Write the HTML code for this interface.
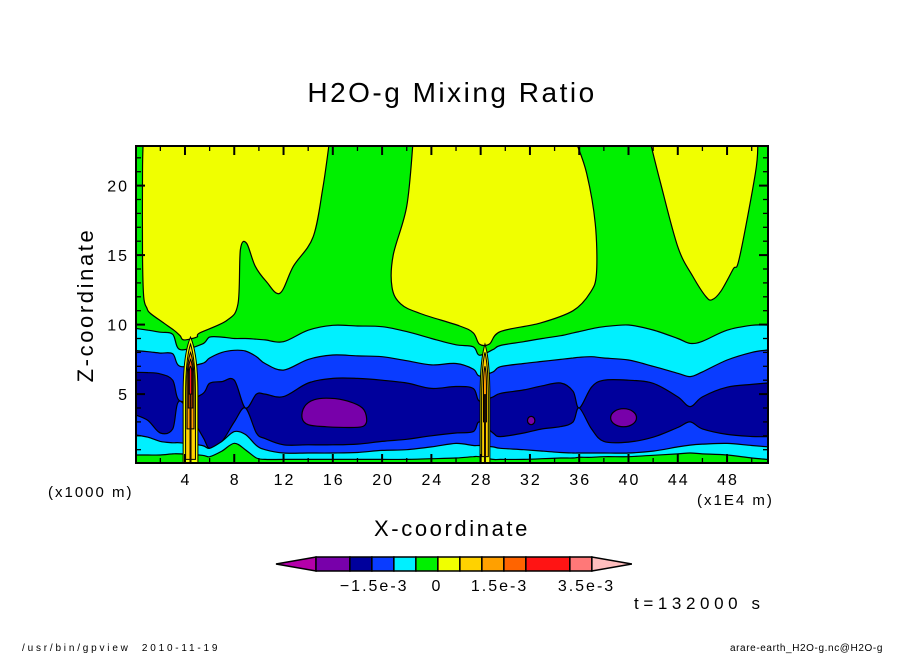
<!DOCTYPE html>
<html><head><meta charset="utf-8"><style>
html,body{margin:0;padding:0;background:#fff;}
svg{display:block;font-family:"Liberation Sans",sans-serif;}
</style></head><body>
<svg id="chart" width="904" height="654" viewBox="0 0 904 654" xmlns="http://www.w3.org/2000/svg">
<defs><clipPath id="plotclip"><rect x="136" y="146" width="632" height="317"/></clipPath></defs>
<rect x="0" y="0" width="904" height="654" fill="#ffffff"/>
<text x="452" y="102" font-size="28" letter-spacing="2.5" text-anchor="middle">H2O-g Mixing Ratio</text>
<g id="plot" clip-path="url(#plotclip)"></g>
<g id="axes"></g>
<text x="93" y="305" font-size="22" letter-spacing="2.6" text-anchor="middle" transform="rotate(-90 93 305)">Z-coordinate</text>
<text x="452" y="536" font-size="22" letter-spacing="2.6" text-anchor="middle">X-coordinate</text>
<text x="48" y="497" font-size="15" letter-spacing="2">(x1000 m)</text>
<text x="697" y="505" font-size="15" letter-spacing="2">(x1E4 m)</text>
<g id="colorbar"></g>
<text x="634" y="609" font-size="17" letter-spacing="4.6">t=132000 s</text>
<text x="22" y="651" font-size="10" letter-spacing="2.8" xml:space="preserve">/usr/bin/gpview  2010-11-19</text>
<text x="883" y="651" font-size="10" letter-spacing="0.6" text-anchor="end">arare-earth_H2O-g.nc@H2O-g</text>
</svg>
<script>
// ---- data (x in 1E4 m, z in km) ----
const xs = [0,1,2,3,3.6,5.4,6,7,8,8.9,9.8,10.5,12,14,16,18,20,22,24,26,27.4,27.9,29.0,29.6,31.5,33,34.5,35.5,36.0,37,38,40,42,44,45,46,48,50,51.3];
const b5 = [9.73,9.6,9.45,9.3,8.2,8.6,9.1,9.1,9.0,9.0,8.95,8.9,8.77,9.6,9.95,9.9,9.85,9.5,9.0,8.55,8.4,7.8,8.2,8.5,8.77,9.0,9.2,9.4,9.5,9.7,9.85,9.97,9.61,9.0,8.65,8.8,9.6,9.95,9.97];
const b4 = [8.13,8.05,7.95,7.9,7.0,7.2,7.6,8.0,8.15,8.1,7.7,7.2,6.73,7.5,7.81,7.75,7.69,7.4,7.1,7.2,6.8,6.3,6.6,6.97,7.2,7.35,7.5,7.6,7.65,7.69,7.6,7.45,7.0,6.5,6.26,6.6,7.45,8.0,8.17];
const b3 = [6.57,6.55,6.45,6.0,4.5,5.0,5.78,5.9,6.0,4.0,5.0,5.0,4.82,5.8,6.13,6.13,6.0,5.8,5.41,5.55,5.4,4.5,4.8,5.05,5.3,5.6,5.8,5.2,4.0,5.5,6.0,6.0,5.78,4.8,4.1,4.8,5.5,5.7,5.8];
const b2 = [3.5,3.1,2.2,2.5,4.5,2.0,1.1,1.6,3.0,4.0,2.2,1.8,1.35,1.35,1.35,1.4,1.6,1.75,2.0,2.2,2.3,3.0,2.2,1.94,2.2,2.5,2.66,3.0,4.0,2.5,1.6,1.55,1.9,2.6,3.0,2.5,2.1,1.95,1.94];
const b1 = [2.06,1.9,1.6,1.5,1.5,1.3,1.1,1.6,2.3,2.1,1.3,1.0,0.76,0.76,0.76,0.8,0.95,1.0,1.2,1.45,1.3,1.3,1.2,1.1,1.0,0.9,0.8,0.76,0.76,0.76,0.76,0.76,0.9,1.2,1.33,1.4,1.45,1.3,1.21];
const b0 = [0.62,0.62,0.62,0.7,0.7,0.6,0.5,0.9,1.46,1.0,0.4,0.3,0.3,0.3,0.3,0.3,0.3,0.3,0.35,0.4,0.5,0.5,0.3,0.3,0.3,0.35,0.4,0.4,0.45,0.45,0.5,0.5,0.6,0.7,0.76,0.7,0.62,0.4,0.3];

const yellow1X = [0.6,0.55,0.55,0.65,0.9,1.2,2.3,3.1,3.6,3.9,4.95,5.2,7.4,8.3,8.5,9.0,9.7,10.6,11.7,12.8,14.4,15.2,15.7];
const yellow1Z = [23,21,15,12,11.2,10.8,10.1,9.6,9.2,8.9,9.1,9.4,10.3,11.5,15.4,15.85,14.2,13.1,12.25,14.2,16.3,19.9,23];
const yellow2X = [22.5,22.0,20.9,20.8,21.5,23.1,26.3,27.4,27.9,28.7,29.6,32.8,35.5,36.9,37.4,37.3,36.6,35.8];
const yellow2Z = [23,18.5,15,12.7,11.5,10.8,9.9,9.4,8.6,8.6,9.5,10.1,11.0,12.3,13.7,17.3,20.9,23];
const yellow3X = [41.8,42.6,44,45.2,46.3,46.8,47.5,48.5,49,50.3,50.5];
const yellow3Z = [23,20.2,15.6,13.5,12.0,11.8,12.4,14,14.8,20.9,23];

const purple1X = [13.5,13.7,14.5,15.8,17.2,18.4,18.75,18.5,17.5,15.5,14.0];
const purple1Z = [3.3,4.1,4.6,4.7,4.5,4.0,3.2,2.7,2.6,2.65,2.8];
const purpleSpotX = [32.1,39.6];
const purpleSpotZ = [3.1,3.3];
const purpleSpotRX = [0.3,1.05];
const purpleSpotRZ = [0.3,0.65];

const plumeCenters = [4.45,28.35];
const plume1Half = [0.6,0.4,0.28,0.18,0.1];
const plume1Bottom = [0,0.3,2.5,4,5];
const plume1Top = [9.1,8.6,8.0,7.5,7.0];
const plume2Half = [0.4,0.27,0.12];
const plume2Bottom = [0,0.5,3];
const plume2Top = [8.6,8.0,7.0];
const plumeColors = ['#f0ff00','#ffd200','#ffa000','#ff6400','#ff1414'];

const xTicks = [4,8,12,16,20,24,28,32,36,40,44,48];
const zTicks = [5,10,15,20];
const cbColors = ['#7800aa','#00009c','#0a3cff','#00f0ff','#00f000','#f0ff00','#ffd200','#ffa000','#ff6400','#ff1414','#ff7878'];
const cbWidths = [2,1,1,1,1,1,1,1,1,2,1];
const cbLabels = ['−1.5e-3','0','1.5e-3','3.5e-3'];
const cbLabelPos = [2.6,5.45,8.3,12.25];

// ---- scales ----
const X = x => 135.7 + x*12.32;
const Z = z => 463.6 - z*13.9;
const NS = 'http://www.w3.org/2000/svg';
const plot = document.getElementById('plot');
const axes = document.getElementById('axes');
const cb = document.getElementById('colorbar');
function mk(tag, attrs, parent){const e=document.createElementNS(NS,tag);for(const k in attrs)e.setAttribute(k,attrs[k]);parent.appendChild(e);return e;}

// Catmull-Rom smooth path through points
function smooth(pts, closed){
  const n=pts.length;
  const P=i=> closed ? pts[(i+n)%n] : pts[Math.max(0,Math.min(n-1,i))];
  let d='M'+pts[0][0].toFixed(1)+','+pts[0][1].toFixed(1);
  const last = closed? n : n-1;
  for(let i=0;i<last;i++){
    const p0=P(i-1),p1=P(i),p2=P(i+1),p3=P(i+2);
    const c1=[p1[0]+(p2[0]-p0[0])/6,p1[1]+(p2[1]-p0[1])/6];
    const c2=[p2[0]-(p3[0]-p1[0])/6,p2[1]-(p3[1]-p1[1])/6];
    d+=' C'+c1[0].toFixed(1)+','+c1[1].toFixed(1)+' '+c2[0].toFixed(1)+','+c2[1].toFixed(1)+' '+p2[0].toFixed(1)+','+p2[1].toFixed(1);
  }
  return d;
}

let bg = mk('rect',{x:136,y:146,width:632,height:318,fill:'#00f000'},plot);



function band(arr,color,name){
  const pts=xs.map((x,i)=>[X(x),Z(arr[i])]);
  let d=smooth(pts,false);
  d+=' L'+X(xs[xs.length-1])+','+Z(-1)+' L'+X(xs[0])+','+Z(-1)+' Z';
  const p=mk('path',{d:d,fill:color,stroke:'#000','stroke-width':1.2},plot);
  
  
}
band(b5,'#00f0ff','cyan-band-upper');
band(b4,'#0a3cff','blue-band-upper');
band(b3,'#00009c','navy-band');
band(b2,'#0a3cff','blue-band-lower');
band(b1,'#00f0ff','cyan-band-lower');
band(b0,'#00f000','green-band-ground');

// open region reaching the top edge: smooth boundary, then close above the plot
function topRegion(px,pz,color,name){
  const pts=px.map((x,i)=>[X(x),Z(pz[i])]);
  const first=pts[0], last=pts[pts.length-1];
  const d=smooth(pts,false)+' L'+last[0].toFixed(1)+','+Z(26)+' L'+first[0].toFixed(1)+','+Z(26)+' Z';
  const p=mk('path',{d:d,fill:color,stroke:'#000','stroke-width':1.2},plot);
  
  
}
function blob(px,pz,color,name){
  const pts=px.map((x,i)=>[X(x),Z(pz[i])]);
  const p=mk('path',{d:smooth(pts,true)+' Z',fill:color,stroke:'#000','stroke-width':1.2},plot);
  
  
}
topRegion(yellow1X,yellow1Z,'#f0ff00','yellow-region-left');
topRegion(yellow2X,yellow2Z,'#f0ff00','yellow-region-middle');
topRegion(yellow3X,yellow3Z,'#f0ff00','yellow-region-right');
blob(purple1X,purple1Z,'#7800aa','purple-minimum-1');
purpleSpotX.forEach((x,i)=>{
  const e=mk('ellipse',{cx:X(x),cy:Z(purpleSpotZ[i]),rx:purpleSpotRX[i]*12.32,ry:purpleSpotRZ[i]*13.9,fill:'#7800aa',stroke:'#000','stroke-width':1.2},plot);
  
  
});

function plume(c,half,bot,top,name){
  half.forEach((w,i)=>{
    const l=X(c-w), r=X(c+w), b=Z(bot[i]), t=Z(top[i]), m=X(c);
    const mid=Z((bot[i]+top[i])*0.55);
    const d='M'+l+','+b+' L'+l+','+mid+' Q'+l+','+(t+ (mid-t)*0.3)+' '+m+','+t+' Q'+r+','+(t+(mid-t)*0.3)+' '+r+','+mid+' L'+r+','+b+' Z';
    const p=mk('path',{d:d,fill:plumeColors[i],stroke:'#000','stroke-width':1},plot);
    
    
  });
  const core=mk('rect',{x:X(c)-1,y:Z(5),width:2,height:Z(0)-Z(5),fill:'#1a0a00'},plot);
  
  
}
plume(plumeCenters[0],plume1Half,plume1Bottom,plume1Top,'plume-left');
plume(plumeCenters[1],plume2Half,plume2Bottom,plume2Top,'plume-right');

// ---- axes frame & ticks ----
const fr=mk('rect',{x:136,y:146,width:632,height:317,fill:'none',stroke:'#000','stroke-width':2},axes);


for(let v=2; v<=51; v+=2){
  const major = v%4===0, L = major?9:5, x=X(v);
  mk('line',{x1:x,y1:463,x2:x,y2:463-L,stroke:'#000','stroke-width':major?2:1.3},axes);
  mk('line',{x1:x,y1:146,x2:x,y2:146+L,stroke:'#000','stroke-width':major?2:1.3},axes);
}
for(let v=1; v<=22; v++){
  const major = v%5===0, L = major?9:5, y=Z(v);
  mk('line',{x1:136,y1:y,x2:136+L,y2:y,stroke:'#000','stroke-width':major?2:1.3},axes);
  mk('line',{x1:768,y1:y,x2:768-L,y2:y,stroke:'#000','stroke-width':major?2:1.3},axes);
}
xTicks.forEach(v=>{
  const t=mk('text',{x:X(v)+1,y:485,'font-size':16,'letter-spacing':2,'text-anchor':'middle'},axes);
  t.textContent=v;
  
  
});
zTicks.forEach(v=>{
  const t=mk('text',{x:129,y:Z(v)+6,'font-size':16,'letter-spacing':2,'text-anchor':'end'},axes);
  t.textContent=v;
  
  
});

// ---- colorbar ----
const unit=22, cbX=316, cbY=557, cbH=14;
let tl=mk('polygon',{points:(276)+','+(cbY+cbH/2)+' '+cbX+','+cbY+' '+cbX+','+(cbY+cbH),fill:'#b400aa',stroke:'#000','stroke-width':1.5},cb);


let cx=cbX;
cbColors.forEach((c,i)=>{
  const w=cbWidths[i]*unit*(i===0?0.77:1);
  const r=mk('rect',{x:cx,y:cbY,width:w,height:cbH,fill:c,stroke:'#000','stroke-width':1.5},cb);
  
  
  cx+=w;
});
let tr=mk('polygon',{points:cx+','+cbY+' '+cx+','+(cbY+cbH)+' '+(cx+40)+','+(cbY+cbH/2),fill:'#ffbebe',stroke:'#000','stroke-width':1.5},cb);


cbLabels.forEach((s,i)=>{
  const t=mk('text',{x:cbX+34+(cbLabelPos[i]-1.5)*unit,y:591,'font-size':16,'letter-spacing':2,'text-anchor':'middle'},cb);
  t.textContent=s;
  
  
});
</script>
</body></html>
